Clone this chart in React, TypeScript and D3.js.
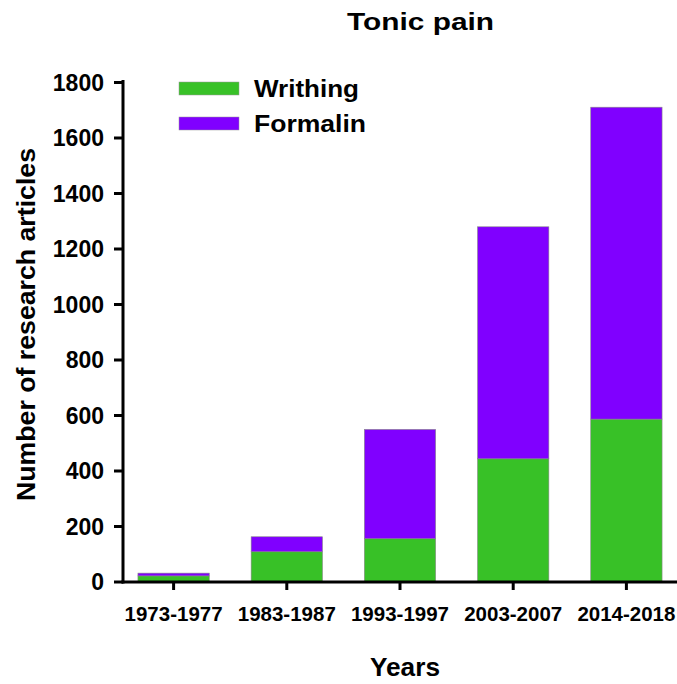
import React from 'react';
import * as d3 from 'd3';

const categories = ['1973-1977', '1983-1987', '1993-1997', '2003-2007', '2014-2018'];
const writhing = [22, 109, 156, 444, 587];
const formalin = [10, 54, 394, 836, 1124];
const yTicks = [0, 200, 400, 600, 800, 1000, 1200, 1400, 1600, 1800];
const seriesNames = ['Writhing', 'Formalin'];
const legendWidths = [105, 112];
const colors = ['#38c127', '#8000ff'];

const W = 677;
const H = 684;
const font = '"Liberation Sans", Arial, sans-serif';

export default function App() {
  const x = d3.scaleBand().domain(categories).range([117, 683]).paddingInner(0.37).paddingOuter(0.185);
  const y = d3.scaleLinear().domain([0, 1800]).range([582, 82.5]);

  const rows = categories.map((c, i) => ({ cat: c, Writhing: writhing[i], Formalin: formalin[i] }));
  const stacked = d3.stack<any>().keys(seriesNames)(rows);

  return (
    <svg width={W} height={H} style={{ position: 'absolute', left: 0, top: 0 }} fontFamily={font}>
      <rect width={W} height={H} fill="#fff" />
      <text x={347} y={30} fontSize={24} fontWeight="bold" textLength={147} lengthAdjust="spacingAndGlyphs">Tonic pain</text>

      {stacked.map((s, si) => (
        <g key={s.key} fill={colors[si]}>
          {s.map((d, i) => (
            <rect key={i} x={x(categories[i])} width={x.bandwidth()} y={y(d[1])} height={y(d[0]) - y(d[1])}
              stroke="#888" strokeWidth={0.6} />
          ))}
        </g>
      ))}

      {/* y axis */}
      <line x1={123} x2={123} y1={80} y2={583.5} stroke="#000" strokeWidth={3} />
      {yTicks.map((t) => (
        <g key={t}>
          <line x1={114} x2={123} y1={y(t)} y2={y(t)} stroke="#000" strokeWidth={3} />
          <text x={104} y={y(t)} dy="0.36em" textAnchor="end" fontSize={23} fontWeight="bold">{t}</text>
        </g>
      ))}

      {/* x axis */}
      <line x1={121.5} x2={677} y1={582} y2={582} stroke="#000" strokeWidth={3} />
      {categories.map((c) => (
        <g key={c}>
          <line x1={x(c)! + x.bandwidth() / 2} x2={x(c)! + x.bandwidth() / 2} y1={582} y2={590} stroke="#000" strokeWidth={3} />
          <text x={x(c)! + x.bandwidth() / 2} y={621} textAnchor="middle" fontSize={20.5} fontWeight="bold">{c}</text>
        </g>
      ))}

      <text x={370} y={676} fontSize={25} fontWeight="bold" textLength={70} lengthAdjust="spacingAndGlyphs">Years</text>
      <text transform="translate(35,501) rotate(-90)" fontSize={26} fontWeight="bold" textLength={353} lengthAdjust="spacingAndGlyphs">
        Number of research articles
      </text>

      {/* legend */}
      {seriesNames.map((n, i) => (
        <g key={n} transform={`translate(179, ${82 + i * 35})`}>
          <rect width={60} height={13} fill={colors[i]} stroke="#999" strokeWidth={0.5} />
          <text x={75} y={6.5} dy="0.36em" fontSize={24} fontWeight="bold" textLength={legendWidths[i]} lengthAdjust="spacingAndGlyphs">{n}</text>
        </g>
      ))}
    </svg>
  );
}
